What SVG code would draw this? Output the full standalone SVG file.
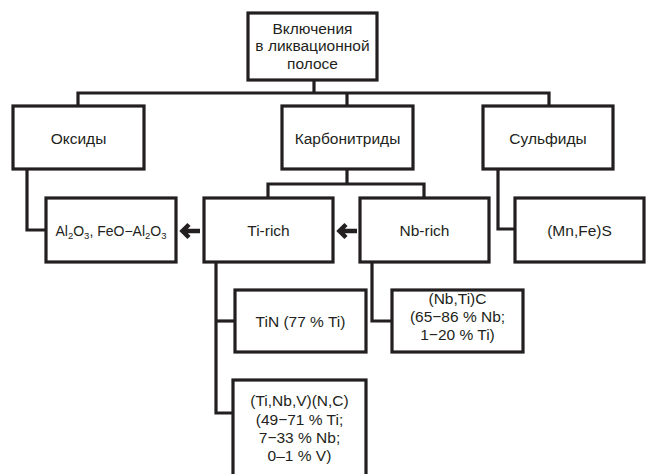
<svg xmlns="http://www.w3.org/2000/svg" width="646" height="474" viewBox="0 0 646 474">
<style>
  .box{fill:#fff;stroke:#231f20;stroke-width:3.2}
  .con{fill:none;stroke:#231f20;stroke-width:3.2}
  .arr{fill:none;stroke:#231f20;stroke-width:4.5}
  text{font-family:"Liberation Sans",Arial,sans-serif;font-size:15.5px;fill:#231f20;text-anchor:middle}
  .sm{font-size:14px}
  .sub{font-size:9.5px}
</style>
<rect width="646" height="474" fill="#fff"/>
<g id="connectors">
  <path class="con" d="M314,80 V93"/>
  <path class="con" d="M78,106 V93 H549 V106"/>
  <path class="con" d="M347,93 V106"/>
  <path class="con" d="M27,169 V230 H46"/>
  <path class="con" d="M347,169 V184"/>
  <path class="con" d="M268,198 V184 H424 V198"/>
  <path class="con" d="M498,169 V229 H515"/>
  <path class="con" d="M216,262 V413 H233"/>
  <path class="con" d="M216,321 H235"/>
  <path class="con" d="M372,262 V321 H392"/>
  <path class="arr" d="M200,231 H184 M189,224.5 L182.5,231 L189,237.5"/>
  <path class="arr" d="M357,231 H341 M346,224.5 L339.5,231 L346,237.5"/>
</g>
<g id="root">
  <rect class="box" x="248" y="13" width="129" height="67"/>
  <text x="312.5" y="34">Включения</text>
  <text x="312.5" y="51">в ликвационной</text>
  <text x="312.5" y="69">полосе</text>
</g>
<g id="oxides">
  <rect class="box" x="13" y="106" width="131" height="63"/>
  <text x="78.5" y="144">Оксиды</text>
</g>
<g id="carbonitrides">
  <rect class="box" x="282" y="106" width="131" height="63"/>
  <text x="347.5" y="144">Карбонитриды</text>
</g>
<g id="sulfides">
  <rect class="box" x="483" y="106" width="130" height="63"/>
  <text x="548" y="144">Сульфиды</text>
</g>
<g id="al2o3">
  <rect class="box" x="46" y="198" width="130" height="64"/>
  <text class="sm" x="111" y="236">Al<tspan class="sub" dy="3">2</tspan><tspan dy="-3">O</tspan><tspan class="sub" dy="3">3</tspan><tspan dy="-3">, FeO−Al</tspan><tspan class="sub" dy="3">2</tspan><tspan dy="-3">O</tspan><tspan class="sub" dy="3">3</tspan></text>
</g>
<g id="tirich">
  <rect class="box" x="204" y="198" width="129" height="64"/>
  <text x="268.5" y="236">Ti-rich</text>
</g>
<g id="nbrich">
  <rect class="box" x="360" y="198" width="129" height="64"/>
  <text x="424.5" y="236">Nb-rich</text>
</g>
<g id="mnfes">
  <rect class="box" x="515" y="198" width="129" height="64"/>
  <text x="579.5" y="236">(Mn,Fe)S</text>
</g>
<g id="tin">
  <rect class="box" x="235" y="290" width="131" height="62"/>
  <text x="300.5" y="327">TiN (77 % Ti)</text>
</g>
<g id="nbtic">
  <rect class="box" x="392" y="290" width="131" height="62"/>
  <text x="457.5" y="304">(Nb,Ti)C</text>
  <text x="457.5" y="322">(65−86 % Nb;</text>
  <text x="457.5" y="340">1−20 % Ti)</text>
</g>
<g id="tinbvnc">
  <rect class="box" x="233" y="380" width="133" height="104"/>
  <text x="299.5" y="406">(Ti,Nb,V)(N,C)</text>
  <text x="299.5" y="425">(49−71 % Ti;</text>
  <text x="299.5" y="443">7−33 % Nb;</text>
  <text x="299.5" y="461">0–1 % V)</text>
</g>
</svg>
